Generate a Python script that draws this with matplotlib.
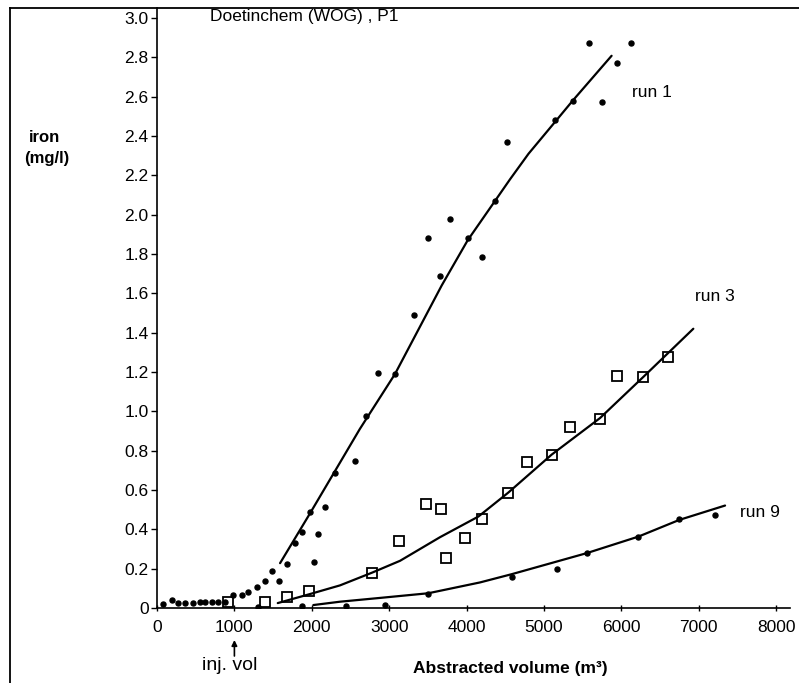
import matplotlib
matplotlib.use('Agg')
import matplotlib.pyplot as plt
from matplotlib.lines import Line2D

plt.rcParams['font.family'] = ['Liberation Sans', 'DejaVu Sans']

# ---- data ----
run1_x = [80, 190, 275, 360, 470, 555, 620, 705, 790, 880, 985, 1095, 1180, 1290,
          1395, 1480, 1570, 1675, 1783, 1870, 1975, 2030, 2085, 2170, 2300, 2558,
          2700, 2859, 3075, 3320, 3505, 3656, 3785, 4015, 4195, 4367, 4518, 5142,
          5371, 5585, 5745, 5947, 6124]
run1_y = [0.02, 0.04, 0.024, 0.024, 0.027, 0.032, 0.032, 0.029, 0.029, 0.029, 0.066,
          0.066, 0.083, 0.108, 0.139, 0.19, 0.139, 0.224, 0.33, 0.389, 0.49, 0.236,
          0.375, 0.513, 0.686, 0.75, 0.978, 1.196, 1.19, 1.49, 1.88, 1.69, 1.98,
          1.88, 1.785, 2.07, 2.37, 2.48, 2.58, 2.873, 2.575, 2.77, 2.873]

run3_x = [915, 1395, 1675, 1968, 2780, 3130, 3475, 3669, 3730, 3979, 4195, 4539,
          4775, 5099, 5336, 5724, 5939, 6283, 6597]
run3_y = [0.032, 0.032, 0.055, 0.088, 0.18, 0.34, 0.53, 0.503, 0.256, 0.358, 0.453,
          0.584, 0.742, 0.78, 0.918, 0.96, 1.18, 1.175, 1.275]

run9_x = [1300, 1870, 2442, 2946, 3505, 4583, 5164, 5552, 6219, 6748, 7209]
run9_y = [0.007, 0.012, 0.012, 0.015, 0.07, 0.16, 0.197, 0.28, 0.36, 0.452, 0.474]

# hand-drawn trend curves (nodes)
curve1_x = [1590, 1975, 2620, 3075, 3678, 4014, 4367, 4561, 4800, 5160, 5371, 5873]
curve1_y = [0.228, 0.48, 0.91, 1.19, 1.64, 1.87, 2.07, 2.18, 2.31, 2.48, 2.58, 2.808]
curve3_x = [1560, 1968, 2364, 2780, 3140, 3656, 4152, 4539, 5099, 5724, 6283, 6929]
curve3_y = [0.025, 0.07, 0.115, 0.18, 0.24, 0.36, 0.465, 0.587, 0.78, 0.966, 1.175, 1.42]
curve9_x = [2020, 2364, 2900, 3505, 4173, 4583, 5552, 6219, 6748, 7339]
curve9_y = [0.015, 0.032, 0.052, 0.075, 0.13, 0.172, 0.279, 0.363, 0.448, 0.521]

x_ticks = [0, 1000, 2000, 3000, 4000, 5000, 6000, 7000, 8000]
y_ticks = [0, 0.2, 0.4, 0.6, 0.8, 1.0, 1.2, 1.4, 1.6, 1.8, 2.0, 2.2, 2.4, 2.6, 2.8, 3.0]
y_tick_labels = ['0', '0.2', '0.4', '0.6', '0.8', '1.0', '1.2', '1.4', '1.6', '1.8',
                 '2.0', '2.2', '2.4', '2.6', '2.8', '3.0']

W, H = 799, 683
fig = plt.figure(figsize=(W / 100, H / 100), dpi=100)
ax = fig.add_axes([157 / W, (H - 608) / H, 633 / W, 600 / H])

for cx, cy in [(curve1_x, curve1_y), (curve3_x, curve3_y), (curve9_x, curve9_y)]:
    ax.plot(cx, cy, color='black', lw=1.6, zorder=2, solid_joinstyle='round',
            solid_capstyle='round')

ax.plot(run1_x, run1_y, 'o', color='black', ms=3.6, zorder=3, linestyle='none')
ax.plot(run3_x, run3_y, 's', mfc='none', mec='black', mew=1.3, ms=6.5, zorder=3,
        linestyle='none')
ax.plot(run9_x, run9_y, 'o', color='black', ms=3.6, zorder=3, linestyle='none')

ax.set_xlim(0, 8178)
ax.set_ylim(0, 3.051)
ax.set_xticks(x_ticks)
ax.set_xticklabels([str(v) for v in x_ticks])
ax.set_yticks(y_ticks)
ax.set_yticklabels(y_tick_labels)

for s in ['top', 'right']:
    ax.spines[s].set_visible(False)
for s in ['left', 'bottom']:
    ax.spines[s].set_linewidth(1.2)
ax.tick_params(axis='y', direction='out', length=4, width=1, labelsize=12.5, pad=2)
ax.tick_params(axis='x', direction='inout', length=5, width=1, labelsize=12.5, pad=6)

ax.text(685, 3.01, 'Doetinchem (WOG) , P1', fontsize=12.5, ha='left', va='center')
ax.text(6137, 2.62, 'run 1', fontsize=12.5, ha='left', va='center')
ax.text(6951, 1.584, 'run 3', fontsize=12.5, ha='left', va='center')
ax.text(7532, 0.484, 'run 9', fontsize=12.5, ha='left', va='center')

ax.annotate('', xy=(1000, H - 640), xycoords=('data', 'figure pixels'),
            xytext=(1000, H - 656), textcoords=('data', 'figure pixels'),
            arrowprops=dict(arrowstyle='-|>', color='black', lw=1.2,
                            mutation_scale=8, shrinkA=0, shrinkB=0))
ax.annotate('inj. vol', xy=(940, H - 665), xycoords=('data', 'figure pixels'),
            fontsize=14, ha='center', va='center')

fig.text(510 / W, (H - 668) / H, 'Abstracted volume (m³)', fontsize=12.5,
         fontweight='bold', ha='center', va='center')
fig.text(45 / W, 1 - 138 / H, 'iron', fontsize=12, fontweight='bold',
         ha='center', va='center')
fig.text(47 / W, 1 - 158 / H, '(mg/l)', fontsize=12, fontweight='bold',
         ha='center', va='center')

# scanned page frame
fig.add_artist(Line2D([10 / W, 10 / W], [0, 1 - 8 / H], transform=fig.transFigure,
                      color='black', lw=1.3))
fig.add_artist(Line2D([10 / W, 1], [1 - 8 / H, 1 - 8 / H], transform=fig.transFigure,
                      color='black', lw=1.3))

fig.savefig('out.png', dpi=100)
